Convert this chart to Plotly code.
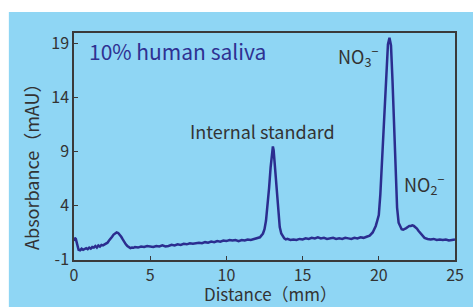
import plotly.graph_objects as go

# ---- data ----
distance_mm = [
    0.0, 0.05, 0.12, 0.2, 0.3, 0.4, 0.5, 0.6, 0.7, 0.8, 0.9, 1.0, 1.1, 1.2, 1.3, 1.4, 1.5, 1.6, 1.7, 1.8, 1.9, 2.0, 2.1, 2.2,
    2.3, 2.4, 2.5, 2.6, 2.7, 2.8, 2.9, 3.0, 3.1, 3.2, 3.3, 3.4, 3.5, 3.6, 3.7, 3.8, 3.9,
    4.0, 4.2, 4.4, 4.6, 4.8, 5.0, 5.2, 5.4, 5.6, 5.8, 6.0, 6.2, 6.4, 6.6, 6.8, 7.0, 7.2, 7.4, 7.6, 7.8,
    8.0, 8.2, 8.4, 8.6, 8.8, 9.0, 9.2, 9.4, 9.6, 9.8, 10.0, 10.2, 10.4, 10.6, 10.8, 11.0, 11.2, 11.4, 11.6, 11.8, 12.0, 12.2,
    12.4, 12.5, 12.6, 12.7, 12.8, 12.9, 13.0, 13.05, 13.1, 13.2, 13.3, 13.4, 13.5, 13.6, 13.7, 13.8, 13.9, 14.0,
    14.2, 14.4, 14.6, 14.8, 15.0, 15.2, 15.4, 15.6, 15.8, 16.0, 16.2, 16.4, 16.6, 16.8, 17.0, 17.2, 17.4, 17.6, 17.8,
    18.0, 18.2, 18.4, 18.6, 18.8, 19.0, 19.2, 19.4, 19.6, 19.8, 19.9,
    20.0, 20.1, 20.2, 20.3, 20.4, 20.5, 20.6, 20.7, 20.8, 20.9, 21.0, 21.1, 21.2, 21.3, 21.4, 21.5, 21.6, 21.7, 21.8, 21.9,
    22.0, 22.1, 22.2, 22.3, 22.4, 22.5, 22.6, 22.7, 22.8, 22.9, 23.0, 23.2, 23.4, 23.6, 23.8, 24.0, 24.2, 24.4, 24.6, 24.8, 25.0,
]
absorbance_mau = [
    0.7, 1.0, 0.9, 0.3, -0.1, -0.15, 0.0, -0.1, -0.05, 0.05, -0.05, 0.1, 0.0, 0.15, 0.1, 0.25, 0.1, 0.3, 0.2, 0.35, 0.3, 0.4, 0.5, 0.55,
    0.75, 0.9, 1.1, 1.3, 1.4, 1.5, 1.45, 1.3, 1.1, 0.85, 0.6, 0.4, 0.25, 0.12, 0.05, 0.1, 0.08,
    0.15, 0.1, 0.2, 0.15, 0.25, 0.2, 0.15, 0.25, 0.2, 0.3, 0.2, 0.25, 0.35, 0.3, 0.4, 0.35, 0.45, 0.4, 0.5, 0.45,
    0.5, 0.55, 0.5, 0.6, 0.55, 0.65, 0.6, 0.7, 0.65, 0.75, 0.7, 0.8, 0.75, 0.8, 0.7, 0.8, 0.75, 0.85, 0.8, 0.9, 0.95, 1.05,
    1.4, 1.8, 2.6, 3.9, 5.6, 7.5, 9.2, 9.45, 9.1, 7.4, 5.2, 3.3, 2.0, 1.4, 1.1, 0.95, 0.85, 0.9,
    0.8, 0.85, 0.8, 0.9, 0.85, 0.95, 0.9, 1.0, 0.95, 1.05, 0.95, 1.0, 0.9, 0.95, 1.0, 0.9, 0.95, 0.9, 1.0,
    0.95, 0.9, 1.0, 0.95, 1.05, 1.0, 1.1, 1.2, 1.5, 2.1, 2.6,
    3.1, 5.0, 8.0, 11.0, 14.0, 16.8, 18.9, 19.5, 18.8, 15.5, 11.0, 6.5, 3.8, 2.4, 2.0, 1.8, 1.75, 1.8, 1.9, 2.0,
    2.1, 2.1, 2.15, 2.1, 2.0, 1.85, 1.65, 1.5, 1.3, 1.15, 1.0, 0.9, 0.85, 0.9, 0.8, 0.85, 0.8, 0.85, 0.75, 0.8, 0.85,
]
x_ticks = [0, 5, 10, 15, 20, 25]
y_ticks = [-1, 4, 9, 14, 19]
y_tick_labels = ["-1", "4", "9", "14", "19"]
peak_labels = ["Internal standard", "NO<sub>3</sub><sup>−</sup>", "NO<sub>2</sub><sup>−</sup>"]
peak_label_x = [12.4, 18.65, 22.95]
peak_label_y = [10.9, 17.85, 5.95]
sample_label = "10% human saliva"
x_title = "Distance（mm）"
y_title = "Absorbance（mAU）"

FONT = "Noto Sans CJK JP, Noto Sans, sans-serif"
TEXT = "#333333"
LINE = "#2b2d8f"

fig = go.Figure()
fig.add_trace(go.Scatter(
    x=distance_mm, y=absorbance_mau, mode="lines",
    line=dict(color=LINE, width=2.5), hoverinfo="skip", showlegend=False,
))

axis_common = dict(
    showgrid=False, zeroline=False, showline=True, linecolor="#3a3a3a", linewidth=1.5,
    mirror=True, ticks="inside", ticklen=4, tickcolor="#3a3a3a", tickwidth=1,
    tickfont=dict(family=FONT, size=16, color=TEXT), automargin=False,
)
fig.update_xaxes(range=[0, 25], tickvals=x_ticks, **axis_common)
fig.update_yaxes(range=[-1.05, 19.95], tickvals=y_ticks, ticktext=y_tick_labels, **axis_common)

# axis titles
fig.add_annotation(xref="paper", yref="paper", x=0.517, y=-0.205, xanchor="center", yanchor="bottom",
                   borderpad=0, text=x_title, showarrow=False, font=dict(family=FONT, size=17, color=TEXT))
fig.add_annotation(xref="paper", yref="paper", x=-0.113, y=0.432, xanchor="center", yanchor="middle",
                   text=y_title, textangle=-90, showarrow=False, font=dict(family=FONT, size=18, color=TEXT))

for text, lx, ly in zip(peak_labels, peak_label_x, peak_label_y):
    fig.add_annotation(x=lx, y=ly, text=text, showarrow=False,
                       font=dict(family=FONT, size=18, color=TEXT))

fig.add_annotation(xref="paper", yref="paper", x=0.035, y=0.92, xanchor="left", yanchor="middle",
                   text=sample_label, showarrow=False,
                   font=dict(family=FONT, size=21, color="#2e3192"))

fig.add_shape(type="rect", xref="paper", yref="paper", x0=-0.171, x1=1.2, y0=-0.4, y1=1.0925,
              fillcolor="#8fd6f4", line=dict(width=0), layer="below")

fig.update_layout(
    width=473, height=307,
    margin=dict(l=74, r=18, t=33, b=47),
    paper_bgcolor="white", plot_bgcolor="#d5ecf9",
)

fig.write_html("out.html", config={"displayModeBar": False},
               post_script="document.body.style.margin='0';")
